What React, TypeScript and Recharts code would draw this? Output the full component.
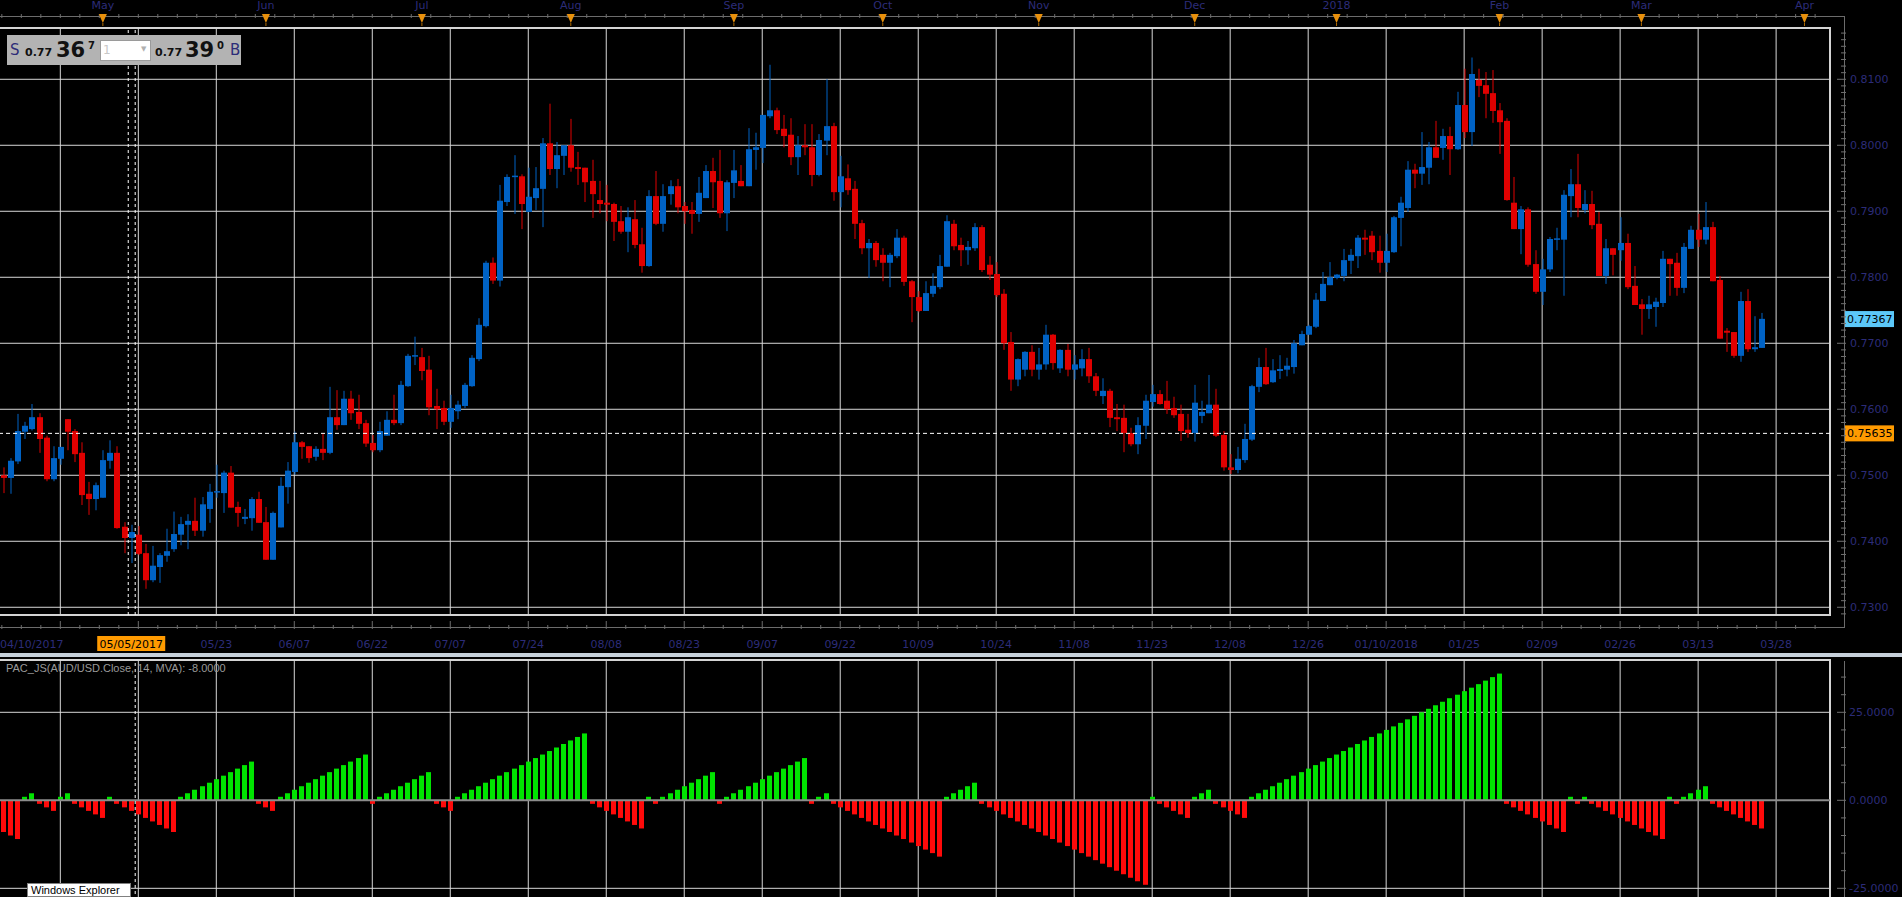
import React from 'react';
import { ComposedChart, Bar, XAxis, YAxis, CartesianGrid, ReferenceLine } from 'recharts';

// daily AUD/USD candles, 04/11/2017 .. 03/23/2018
const opens = [
  0.7500, 0.7496, 0.7521, 0.7566, 0.7570, 0.7588, 0.7557, 0.7494, 0.7525, 0.7585,
  0.7567, 0.7534, 0.7472, 0.7464, 0.7466, 0.7522, 0.7534, 0.7422, 0.7405, 0.7410,
  0.7382, 0.7341, 0.7361, 0.7378, 0.7388, 0.7410, 0.7425, 0.7431, 0.7416, 0.7449,
  0.7475, 0.7473, 0.7504, 0.7452, 0.7434, 0.7435, 0.7464, 0.7429, 0.7372, 0.7421,
  0.7482, 0.7505, 0.7550, 0.7544, 0.7528, 0.7540, 0.7534, 0.7588, 0.7576, 0.7616,
  0.7596, 0.7579, 0.7549, 0.7538, 0.7560, 0.7584, 0.7579, 0.7635, 0.7681, 0.7679,
  0.7660, 0.7605, 0.7602, 0.7581, 0.7597, 0.7605, 0.7635, 0.7676, 0.7726, 0.7822,
  0.7795, 0.7914, 0.7952, 0.7953, 0.7899, 0.7920, 0.7934, 0.8003, 0.7964, 0.7984,
  0.8000, 0.7967, 0.7966, 0.7946, 0.7917, 0.7913, 0.7911, 0.7885, 0.7869, 0.7888,
  0.7850, 0.7817, 0.7923, 0.7881, 0.7926, 0.7938, 0.7908, 0.7902, 0.7896, 0.7920,
  0.7961, 0.7946, 0.7897, 0.7943, 0.7946, 0.7938, 0.7993, 0.7996, 0.8044, 0.8053,
  0.8025, 0.8016, 0.7982, 0.8000, 0.7997, 0.7955, 0.8007, 0.8029, 0.7929, 0.7950,
  0.7934, 0.7882, 0.7844, 0.7852, 0.7834, 0.7822, 0.7832, 0.7860, 0.7794, 0.7770,
  0.7749, 0.7775, 0.7785, 0.7816, 0.7881, 0.7849, 0.7841, 0.7844, 0.7876, 0.7819,
  0.7805, 0.7775, 0.7702, 0.7645, 0.7660, 0.7687, 0.7660, 0.7668, 0.7713, 0.7662,
  0.7690, 0.7660, 0.7662, 0.7676, 0.7650, 0.7620, 0.7628, 0.7588, 0.7587, 0.7564,
  0.7547, 0.7575, 0.7611, 0.7623, 0.7613, 0.7602, 0.7593, 0.7569, 0.7564, 0.7590,
  0.7594, 0.7607, 0.7561, 0.7512, 0.7508, 0.7523, 0.7554, 0.7634, 0.7664, 0.7641,
  0.7658, 0.7660, 0.7664, 0.7697, 0.7713, 0.7725, 0.7764, 0.7788, 0.7799, 0.7802,
  0.7825, 0.7832, 0.7860, 0.7863, 0.7840, 0.7822, 0.7838, 0.7890, 0.7905, 0.7963,
  0.7957, 0.7966, 0.7997, 0.7996, 0.8014, 0.7994, 0.8061, 0.8020, 0.8099, 0.8091,
  0.8079, 0.8053, 0.8037, 0.7913, 0.7873, 0.7903, 0.7820, 0.7778, 0.7812, 0.7858,
  0.7857, 0.7923, 0.7941, 0.7902, 0.7911, 0.7881, 0.7802, 0.7844, 0.7841, 0.7852,
  0.7787, 0.7759, 0.7752, 0.7755, 0.7761, 0.7828, 0.7822, 0.7784, 0.7843, 0.7872,
  0.7857, 0.7876, 0.7796, 0.7719, 0.7717, 0.7681, 0.7764, 0.7691, 0.7693,
];
const highs = [
  0.7512, 0.7526, 0.7593, 0.7581, 0.7608, 0.7594, 0.7560, 0.7544, 0.7543, 0.7585,
  0.7570, 0.7550, 0.7490, 0.7489, 0.7538, 0.7553, 0.7544, 0.7429, 0.7425, 0.7423,
  0.7396, 0.7393, 0.7382, 0.7419, 0.7445, 0.7437, 0.7441, 0.7466, 0.7467, 0.7487,
  0.7516, 0.7507, 0.7514, 0.7460, 0.7449, 0.7467, 0.7475, 0.7452, 0.7445, 0.7497,
  0.7520, 0.7566, 0.7552, 0.7544, 0.7544, 0.7563, 0.7634, 0.7629, 0.7628, 0.7628,
  0.7622, 0.7584, 0.7561, 0.7581, 0.7597, 0.7622, 0.7643, 0.7684, 0.7710, 0.7693,
  0.7681, 0.7631, 0.7613, 0.7622, 0.7613, 0.7640, 0.7682, 0.7738, 0.7825, 0.7830,
  0.7940, 0.7956, 0.7985, 0.7956, 0.7966, 0.7967, 0.8011, 0.8063, 0.8005, 0.8000,
  0.8040, 0.7990, 0.7966, 0.7978, 0.7946, 0.7940, 0.7913, 0.7908, 0.7906, 0.7917,
  0.7875, 0.7932, 0.7961, 0.7941, 0.7947, 0.7949, 0.7914, 0.7914, 0.7952, 0.7970,
  0.7981, 0.7993, 0.7947, 0.7993, 0.7970, 0.8026, 0.8019, 0.8046, 0.8122, 0.8057,
  0.8046, 0.8041, 0.8014, 0.8032, 0.8032, 0.8017, 0.8100, 0.8034, 0.7984, 0.7971,
  0.7946, 0.7887, 0.7858, 0.7855, 0.7844, 0.7837, 0.7873, 0.7863, 0.7796, 0.7779,
  0.7794, 0.7806, 0.7834, 0.7894, 0.7887, 0.7860, 0.7855, 0.7882, 0.7879, 0.7832,
  0.7823, 0.7782, 0.7717, 0.7677, 0.7688, 0.7697, 0.7693, 0.7728, 0.7714, 0.7691,
  0.7699, 0.7682, 0.7691, 0.7693, 0.7655, 0.7647, 0.7631, 0.7608, 0.7607, 0.7572,
  0.7588, 0.7622, 0.7637, 0.7629, 0.7643, 0.7619, 0.7607, 0.7593, 0.7637, 0.7613,
  0.7652, 0.7631, 0.7567, 0.7532, 0.7543, 0.7578, 0.7637, 0.7678, 0.7693, 0.7676,
  0.7682, 0.7678, 0.7705, 0.7719, 0.7728, 0.7776, 0.7808, 0.7823, 0.7805, 0.7843,
  0.7843, 0.7864, 0.7872, 0.7870, 0.7863, 0.7866, 0.7893, 0.7922, 0.7976, 0.7972,
  0.8020, 0.8005, 0.8037, 0.8025, 0.8028, 0.8081, 0.8116, 0.8133, 0.8116, 0.8111,
  0.8114, 0.8064, 0.8041, 0.7952, 0.7908, 0.7906, 0.7841, 0.7828, 0.7861, 0.7875,
  0.7932, 0.7964, 0.7987, 0.7932, 0.7931, 0.7899, 0.7858, 0.7844, 0.7891, 0.7866,
  0.7817, 0.7767, 0.7772, 0.7769, 0.7840, 0.7828, 0.7837, 0.7852, 0.7878, 0.7896,
  0.7914, 0.7884, 0.7802, 0.7723, 0.7717, 0.7778, 0.7782, 0.7741, 0.7746,
];
const lows = [
  0.7473, 0.7472, 0.7517, 0.7555, 0.7568, 0.7534, 0.7491, 0.7491, 0.7516, 0.7538,
  0.7520, 0.7455, 0.7440, 0.7447, 0.7466, 0.7510, 0.7419, 0.7382, 0.7367, 0.7379,
  0.7328, 0.7338, 0.7337, 0.7369, 0.7384, 0.7394, 0.7388, 0.7408, 0.7407, 0.7428,
  0.7466, 0.7443, 0.7451, 0.7422, 0.7426, 0.7416, 0.7428, 0.7372, 0.7372, 0.7421,
  0.7457, 0.7501, 0.7525, 0.7519, 0.7522, 0.7523, 0.7532, 0.7569, 0.7576, 0.7584,
  0.7570, 0.7543, 0.7535, 0.7535, 0.7560, 0.7576, 0.7576, 0.7634, 0.7667, 0.7644,
  0.7591, 0.7570, 0.7576, 0.7572, 0.7585, 0.7602, 0.7634, 0.7673, 0.7724, 0.7790,
  0.7786, 0.7908, 0.7896, 0.7873, 0.7899, 0.7902, 0.7876, 0.7955, 0.7935, 0.7955,
  0.7960, 0.7940, 0.7914, 0.7890, 0.7897, 0.7885, 0.7855, 0.7866, 0.7838, 0.7844,
  0.7807, 0.7816, 0.7879, 0.7869, 0.7910, 0.7897, 0.7881, 0.7866, 0.7884, 0.7920,
  0.7905, 0.7890, 0.7870, 0.7920, 0.7938, 0.7938, 0.7963, 0.7973, 0.8041, 0.8017,
  0.7997, 0.7970, 0.7955, 0.7985, 0.7938, 0.7953, 0.7985, 0.7916, 0.7906, 0.7925,
  0.7858, 0.7835, 0.7799, 0.7816, 0.7794, 0.7785, 0.7829, 0.7787, 0.7732, 0.7747,
  0.7749, 0.7770, 0.7782, 0.7816, 0.7841, 0.7817, 0.7819, 0.7840, 0.7808, 0.7796,
  0.7770, 0.7690, 0.7628, 0.7635, 0.7650, 0.7650, 0.7645, 0.7660, 0.7660, 0.7655,
  0.7650, 0.7645, 0.7650, 0.7640, 0.7620, 0.7608, 0.7573, 0.7567, 0.7535, 0.7544,
  0.7532, 0.7555, 0.7604, 0.7607, 0.7593, 0.7587, 0.7552, 0.7557, 0.7551, 0.7579,
  0.7594, 0.7558, 0.7507, 0.7502, 0.7503, 0.7519, 0.7552, 0.7626, 0.7637, 0.7640,
  0.7646, 0.7650, 0.7654, 0.7697, 0.7713, 0.7723, 0.7764, 0.7788, 0.7797, 0.7794,
  0.7805, 0.7814, 0.7834, 0.7826, 0.7807, 0.7808, 0.7837, 0.7847, 0.7899, 0.7935,
  0.7940, 0.7941, 0.7981, 0.7978, 0.7955, 0.7993, 0.8011, 0.7999, 0.8073, 0.8041,
  0.8034, 0.7987, 0.7916, 0.7873, 0.7835, 0.7816, 0.7775, 0.7758, 0.7808, 0.7841,
  0.7772, 0.7891, 0.7891, 0.7897, 0.7873, 0.7802, 0.7790, 0.7803, 0.7825, 0.7782,
  0.7758, 0.7713, 0.7737, 0.7725, 0.7755, 0.7772, 0.7772, 0.7776, 0.7843, 0.7846,
  0.7850, 0.7794, 0.7707, 0.7687, 0.7678, 0.7672, 0.7687, 0.7687, 0.7693,
];
const closes = [
  0.7496, 0.7522, 0.7567, 0.7575, 0.7588, 0.7555, 0.7494, 0.7526, 0.7543, 0.7566,
  0.7532, 0.7470, 0.7464, 0.7485, 0.7523, 0.7534, 0.7420, 0.7405, 0.7414, 0.7381,
  0.7341, 0.7363, 0.7379, 0.7385, 0.7411, 0.7426, 0.7431, 0.7416, 0.7456, 0.7475,
  0.7476, 0.7504, 0.7451, 0.7443, 0.7437, 0.7464, 0.7428, 0.7372, 0.7443, 0.7484,
  0.7507, 0.7550, 0.7543, 0.7526, 0.7540, 0.7534, 0.7588, 0.7576, 0.7616, 0.7594,
  0.7578, 0.7548, 0.7538, 0.7567, 0.7584, 0.7579, 0.7637, 0.7681, 0.7682, 0.7658,
  0.7603, 0.7600, 0.7581, 0.7602, 0.7607, 0.7637, 0.7678, 0.7728, 0.7822, 0.7795,
  0.7916, 0.7952, 0.7954, 0.7911, 0.7922, 0.7935, 0.8003, 0.7964, 0.7985, 0.8000,
  0.7966, 0.7964, 0.7944, 0.7926, 0.7911, 0.7910, 0.7884, 0.7869, 0.7891, 0.7849,
  0.7817, 0.7923, 0.7881, 0.7923, 0.7938, 0.7906, 0.7900, 0.7896, 0.7928, 0.7961,
  0.7944, 0.7897, 0.7944, 0.7962, 0.7938, 0.7994, 0.7997, 0.8046, 0.8053, 0.8023,
  0.8014, 0.7982, 0.8000, 0.7997, 0.7955, 0.8008, 0.8029, 0.7929, 0.7953, 0.7932,
  0.7881, 0.7844, 0.7852, 0.7826, 0.7822, 0.7834, 0.7860, 0.7793, 0.7770, 0.7749,
  0.7776, 0.7787, 0.7817, 0.7885, 0.7847, 0.7841, 0.7846, 0.7876, 0.7811, 0.7804,
  0.7773, 0.7700, 0.7645, 0.7676, 0.7687, 0.7660, 0.7668, 0.7713, 0.7670, 0.7690,
  0.7660, 0.7668, 0.7676, 0.7650, 0.7628, 0.7628, 0.7587, 0.7585, 0.7564, 0.7547,
  0.7576, 0.7613, 0.7623, 0.7608, 0.7600, 0.7591, 0.7567, 0.7564, 0.7610, 0.7596,
  0.7607, 0.7560, 0.7512, 0.7508, 0.7525, 0.7555, 0.7635, 0.7664, 0.7638, 0.7659,
  0.7661, 0.7666, 0.7700, 0.7714, 0.7726, 0.7766, 0.7790, 0.7800, 0.7804, 0.7826,
  0.7834, 0.7860, 0.7857, 0.7838, 0.7822, 0.7840, 0.7891, 0.7913, 0.7963, 0.7957,
  0.7967, 0.7997, 0.7981, 0.8014, 0.7994, 0.8061, 0.8020, 0.8108, 0.8090, 0.8078,
  0.8052, 0.8035, 0.7917, 0.7873, 0.7903, 0.7819, 0.7778, 0.7812, 0.7858, 0.7859,
  0.7925, 0.7941, 0.7905, 0.7911, 0.7879, 0.7802, 0.7844, 0.7834, 0.7852, 0.7785,
  0.7758, 0.7752, 0.7759, 0.7763, 0.7828, 0.7820, 0.7784, 0.7846, 0.7872, 0.7857,
  0.7876, 0.7794, 0.7707, 0.7716, 0.7681, 0.7764, 0.7691, 0.7694, 0.7737,
];

// PAC_JS streak counter, one bar per candle
const pacValues = [
  -9, -10, -11, 1, 2, -1, -2, -3, 1, 2, -1, -2, -3, -4, -5, 1,
  -1, -2, -3, -4, -5, -6, -7, -8, -9,
  1, 2, 3, 4, 5, 6, 7, 8, 9, 10, 11,
  -1, -2, -3,
  1, 2, 3, 4, 5, 6, 7, 8, 9, 10, 11, 12, 13,
  -1,
  1, 2, 3, 4, 5, 6, 7, 8,
  -1, -2, -3,
  1, 2, 3, 4, 5, 6, 7, 8, 9, 10, 11, 12, 13, 14, 15, 16, 17, 18, 19,
  -1, -2, -3, -4, -5, -6, -7, -8,
  1, -1,
  1, 2, 3, 4, 5, 6, 7, 8,
  -1,
  1, 2, 3, 4, 5, 6, 7, 8, 9, 10, 11, 12,
  -1, 1, 2,
  -1, -2, -3, -4, -5, -6, -7, -8, -9, -10, -11, -12, -13, -14, -15, -16,
  1, 2, 3, 4, 5,
  -1, -2, -3, -4, -5, -6, -7, -8, -9, -10, -11, -12,
  -13, -14, -15, -16, -17, -18, -19, -20, -21, -22, -23, -24,
  1,
  -1, -2, -3, -4, -5,
  1, 2, 3,
  -1, -2, -3, -4, -5,
  1, 2, 3, 4, 5, 6, 7, 8, 9, 10, 11, 12, 13, 14, 15, 16, 17, 18,
  19, 20, 21, 22, 23, 24, 25, 26, 27, 28, 29, 30, 31, 32, 33, 34, 35, 36,
  -1, -2, -3, -4, -5, -6, -7, -8, -9,
  1, -1, 1,
  -1, -2, -3, -4, -5, -6, -7, -8, -9, -10, -11,
  1, -1,
  1, 2, 3, 4,
  -1, -2, -3, -4, -5, -6, -7, -8,
];

const monthIdx = [14, 37, 59, 80, 103, 124, 146, 168, 188, 211, 231, 254];
const monthLabels = ['May', 'Jun', 'Jul', 'Aug', 'Sep', 'Oct', 'Nov', 'Dec', '2018', 'Feb', 'Mar', 'Apr'];
const gridIdx = [8, 19, 30, 41, 52, 63, 74, 85, 96, 107, 118, 129, 140, 151, 162, 173, 184, 195, 206, 217, 228, 239, 250];
const dateIdx = [-0.5, 18, 30, 41, 52, 63, 74, 85, 96, 107, 118, 129, 140, 151, 162, 173, 184, 195, 206, 217, 228, 239, 250];
const dateLabels = [
  '04/10/2017', '05/05/2017', '05/23', '06/07', '06/22', '07/07', '07/24', '08/08', '08/23', '09/07', '09/22', '10/09',
  '10/24', '11/08', '11/23', '12/08', '12/26', '01/10/2018', '01/25', '02/09', '02/26', '03/13', '03/28',
];
const priceTicks = [0.73, 0.74, 0.75, 0.76, 0.77, 0.78, 0.79, 0.80, 0.81];
const histTicks = [-25, 0, 25];
const lastPrice = 0.77367;
const cursorPrice = 0.75635;
const cursorIdx = 18;
const pacLabel = 'PAC_JS(AUD/USD.Close, 14, MVA): -8.0000';

const X_MIN = -0.508;
const X_MAX = 257.6;
const Y_MIN = 0.72883;
const Y_MAX = 0.81777;
const H_MIN = -28.32;
const H_MAX = 39.86;

const BLUE = '#0062c4';
const RED = '#e00000';
const GREEN = '#00e400';
const HRED = '#ff0a0a';
const NAVY = '#2c2c78';
const GRID = '#d8d8d8';
const FONT = '"DejaVu Sans", Verdana, sans-serif';

const candles = opens.map((o, i) => ({
  i,
  open: o,
  high: highs[i],
  low: lows[i],
  close: closes[i],
  range: [lows[i], highs[i]],
}));
const histData = pacValues.map((v, i) => ({ i, v }));

const same = (a: number, b: number) => Math.abs(a - b) < 1e-6;
const minorIdx: number[] = [];
[-3, ...gridIdx].forEach((g) => {
  [2.75, 5.5, 8.25].forEach((d) => {
    const v = g + d;
    if (v > X_MIN && v < X_MAX) minorIdx.push(v);
  });
});
const bottomTicks = Array.from(new Set([...gridIdx, ...minorIdx, ...dateIdx])).sort((a, b) => a - b);
const topTicks = Array.from(new Set([...gridIdx, ...minorIdx, ...monthIdx])).sort((a, b) => a - b);
const priceMinor: number[] = [];
for (let k = 729; k <= 817; k++) priceMinor.push(k / 1000);
const histMinor = [-25, -20, -15, -10, -5, 0, 5, 10, 15, 20, 25, 30, 35];

function Candle(props: any) {
  const { x, y, width, height, payload } = props;
  if (x == null || !payload) return null;
  const top = Math.min(y, y + height);
  const h = Math.abs(height);
  const span = payload.high - payload.low;
  const py = (v: number) => top + (span > 0 ? ((payload.high - v) / span) * h : 0);
  const color = payload.close >= payload.open ? BLUE : RED;
  const rx = Math.round(x + width / 2 - 3);
  const yo = py(payload.open);
  const yc = py(payload.close);
  const bTop = Math.min(yo, yc);
  const bH = Math.max(Math.abs(yc - yo), 1.5);
  return (
    <g>
      <rect x={rx + 2.5} y={top} width={1} height={Math.max(h, 1)} fill={color} />
      <rect x={rx} y={bTop} width={6} height={bH} fill={color} />
    </g>
  );
}

function HistBar(props: any) {
  const { x, y, width, height, payload } = props;
  if (x == null || !payload) return null;
  const top = Math.min(y, y + height);
  const h = Math.max(Math.abs(height), 1);
  const rx = Math.round(x + width / 2 - 2.5);
  return <rect x={rx} y={top} width={5} height={h} fill={payload.v >= 0 ? GREEN : HRED} />;
}

function TopTick(props: any) {
  const { x, y, payload } = props;
  const v = payload.value;
  const m = monthIdx.findIndex((t) => same(t, v));
  if (m >= 0) {
    return (
      <g>
        <text x={x} y={y - 17} textAnchor="middle" fontSize={11} fontFamily={FONT} fill={NAVY}>
          {monthLabels[m]}
        </text>
        <path d={`M${x - 4},${y - 12} L${x + 4},${y - 12} L${x},${y - 3} Z`} fill="#e8900c" />
        <line x1={x} x2={x} y1={y - 3} y2={y} stroke="#b06a00" />
      </g>
    );
  }
  return <line x1={x} x2={x} y1={y - 12} y2={y - 8} stroke="#6c6c6c" />;
}

function BottomTick(props: any) {
  const { x, y, payload } = props;
  const v = payload.value;
  const isGrid = gridIdx.some((g) => same(g, v));
  const isMinor = minorIdx.some((g) => same(g, v));
  const d = dateIdx.findIndex((t) => same(t, v));
  return (
    <g>
      {isGrid && <line x1={x} x2={x} y1={y + 4} y2={y + 12} stroke="#6c6c6c" />}
      {isMinor && <line x1={x} x2={x} y1={y + 8} y2={y + 12} stroke="#6c6c6c" />}
      {d === 1 && <rect x={x - 34} y={y + 19} width={68} height={15} fill="#ff9a00" />}
      {d >= 0 && (
        <text
          x={d === 0 ? 0 : x}
          y={y + 31}
          textAnchor={d === 0 ? 'start' : 'middle'}
          fontSize={11}
          fontFamily={FONT}
          fill={d === 1 ? '#000' : NAVY}
        >
          {dateLabels[d]}
        </text>
      )}
    </g>
  );
}

function PriceTick(props: any) {
  const { x, y, payload } = props;
  const v = payload.value;
  const major = priceTicks.some((t) => same(t, v));
  const ax = x + 14;
  return (
    <g>
      <line x1={ax - (major ? 9 : 5)} x2={ax} y1={y} y2={y} stroke="#707070" />
      {major && (
        <text x={ax + 4} y={y + 4} fontSize={11} fontFamily={FONT} fill={NAVY}>
          {v.toFixed(4)}
        </text>
      )}
    </g>
  );
}

function HistTick(props: any) {
  const { x, y, payload } = props;
  const v = payload.value;
  const major = histTicks.some((t) => same(t, v));
  const ax = x + 14;
  return (
    <g>
      <line x1={ax - (major ? 9 : 5)} x2={ax} y1={y} y2={y} stroke="#707070" />
      {major && (
        <text x={ax + 3} y={y + 4} fontSize={11} fontFamily={FONT} fill={NAVY}>
          {v.toFixed(4)}
        </text>
      )}
    </g>
  );
}

function PriceTag(props: any) {
  const { viewBox, text, bg } = props;
  if (!viewBox) return null;
  const x = viewBox.x + viewBox.width + 15;
  return (
    <g>
      <rect x={x} y={viewBox.y - 8} width={49} height={16} fill={bg} />
      <text x={x + 2} y={viewBox.y + 4} fontSize={11} fontFamily={FONT} fill="#000">
        {text}
      </text>
    </g>
  );
}

const abs = (s: React.CSSProperties): React.CSSProperties => ({ position: 'absolute', ...s });

function Header() {
  const big = { fontSize: 21, fontWeight: 700, color: '#111', lineHeight: 1 } as React.CSSProperties;
  const small = { fontSize: 11, fontWeight: 700, color: '#111', lineHeight: 1 } as React.CSSProperties;
  const sup = { fontSize: 10, fontWeight: 700, color: '#111', lineHeight: 1 } as React.CSSProperties;
  const side = { fontSize: 15, color: NAVY, lineHeight: 1 } as React.CSSProperties;
  return (
    <div style={abs({ left: 7, top: 35, width: 234, height: 30, background: '#b3b3b3' })}>
      <span style={abs({ left: 3, top: 8, ...side })}>S</span>
      <span style={abs({ left: 18, top: 12, ...small })}>0.77</span>
      <span style={abs({ left: 49, top: 5, ...big })}>36</span>
      <span style={abs({ left: 81, top: 6, ...sup })}>7</span>
      <div style={abs({ left: 93, top: 5, width: 49, height: 19, background: '#fff', border: '1px solid #9a9a9a' })}>
        <span style={abs({ left: 2, top: 3, fontSize: 12, color: '#c8c8c8', lineHeight: 1 })}>1</span>
        <span style={abs({ left: 40, top: 5, fontSize: 7, color: '#b0b0b0', lineHeight: 1 })}>▼</span>
      </div>
      <span style={abs({ left: 148, top: 12, ...small })}>0.77</span>
      <span style={abs({ left: 178, top: 5, ...big })}>39</span>
      <span style={abs({ left: 210, top: 6, ...sup })}>0</span>
      <span style={abs({ left: 223, top: 8, ...side })}>B</span>
    </div>
  );
}

export default function App() {
  return (
    <div style={abs({ left: 0, top: 0, width: 1902, height: 897, background: '#000', overflow: 'hidden', fontFamily: FONT })}>
      {/* axis strips and frames */}
      <div style={abs({ left: 0, top: 16, width: 1845, height: 1, background: '#6c6c6c' })} />
      <div style={abs({ left: 1844, top: 16, width: 1, height: 612, background: '#6c6c6c' })} />
      <div style={abs({ left: 0, top: 627, width: 1845, height: 1, background: '#6c6c6c' })} />
      <div style={abs({ left: -3, top: 27, width: 1834, height: 589, border: '2px solid #d4d4d4', boxSizing: 'border-box' })} />
      <div style={abs({ left: 0, top: 653, width: 1902, height: 4, background: '#c6d0da' })} />
      <div style={abs({ left: -3, top: 659, width: 1834, height: 300, border: '2px solid #d4d4d4', boxSizing: 'border-box' })} />
      <div style={abs({ left: 1844, top: 661, width: 1, height: 240, background: '#6c6c6c' })} />

      <div style={abs({ left: 0, top: 0 })}>
        <ComposedChart width={1902} height={656} data={candles} margin={{ top: 0, right: 0, bottom: 0, left: 0 }}>
          <CartesianGrid
            xAxisId="b"
            stroke={GRID}
            strokeWidth={1}
            verticalValues={gridIdx}
            horizontalValues={priceTicks}
          />
          <XAxis
            xAxisId="t"
            orientation="top"
            dataKey="i"
            type="number"
            domain={[X_MIN, X_MAX]}
            allowDataOverflow
            ticks={topTicks}
            interval={0}
            height={28}
            axisLine={false}
            tickLine={false}
            tickSize={0}
            tick={<TopTick />}
          />
          <XAxis
            xAxisId="b"
            dataKey="i"
            type="number"
            domain={[X_MIN, X_MAX]}
            allowDataOverflow
            ticks={bottomTicks}
            interval={0}
            height={41}
            axisLine={false}
            tickLine={false}
            tickSize={0}
            tick={<BottomTick />}
          />
          <YAxis
            orientation="right"
            width={72}
            domain={[Y_MIN, Y_MAX]}
            allowDataOverflow
            ticks={priceMinor}
            interval={0}
            axisLine={false}
            tickLine={false}
            tickSize={0}
            tick={<PriceTick />}
          />
          <Bar
            xAxisId="b"
            dataKey="range"
            barSize={6}
            isAnimationActive={false}
            shape={(p: any) => <Candle {...p} />}
          />
          <ReferenceLine
            xAxisId="b"
            y={cursorPrice}
            stroke="#ffffff"
            strokeDasharray="4 3"
            label={<PriceTag text={cursorPrice.toFixed(5)} bg="#ff9a00" />}
          />
          <ReferenceLine
            xAxisId="b"
            y={lastPrice}
            stroke="none"
            strokeOpacity={0}
            label={<PriceTag text={lastPrice.toFixed(5)} bg="#5cc8f8" />}
          />
          <ReferenceLine xAxisId="b" x={cursorIdx - 0.42} stroke="#ffffff" strokeDasharray="3 3" />
          <ReferenceLine xAxisId="b" x={cursorIdx + 0.56} stroke="#ffffff" strokeDasharray="3 3" />
        </ComposedChart>
      </div>

      <Header />

      <div style={abs({ left: 0, top: 660 })}>
        <ComposedChart width={1902} height={240} data={histData} margin={{ top: 0, right: 0, bottom: 0, left: 0 }}>
          <CartesianGrid stroke={GRID} strokeWidth={1} verticalValues={gridIdx} horizontalValues={[-25, 25]} />
          <XAxis dataKey="i" type="number" domain={[X_MIN, X_MAX]} allowDataOverflow hide />
          <YAxis
            orientation="right"
            width={72}
            domain={[H_MIN, H_MAX]}
            allowDataOverflow
            ticks={histMinor}
            interval={0}
            axisLine={false}
            tickLine={false}
            tickSize={0}
            tick={<HistTick />}
          />
          <ReferenceLine y={0} stroke="#8c8c8c" strokeWidth={2} />
          <Bar dataKey="v" barSize={5} isAnimationActive={false} shape={(p: any) => <HistBar {...p} />} />
          <ReferenceLine x={cursorIdx + 0.56} stroke="#ffffff" strokeDasharray="3 3" />
        </ComposedChart>
      </div>

      <div style={abs({ left: 6, top: 663, fontSize: 11, color: '#9a9a9a', fontFamily: '"Liberation Sans", Arial, sans-serif', lineHeight: 1 })}>
        {pacLabel}
      </div>

      <div
        style={abs({
          left: 27,
          top: 883,
          width: 104,
          height: 14,
          background: '#fff',
          border: '1px solid #808080',
          fontSize: 11,
          color: '#000',
          fontFamily: '"Liberation Sans", Arial, sans-serif',
          lineHeight: '12px',
          paddingLeft: 3,
          boxSizing: 'border-box',
        })}
      >
        Windows Explorer
      </div>
    </div>
  );
}
